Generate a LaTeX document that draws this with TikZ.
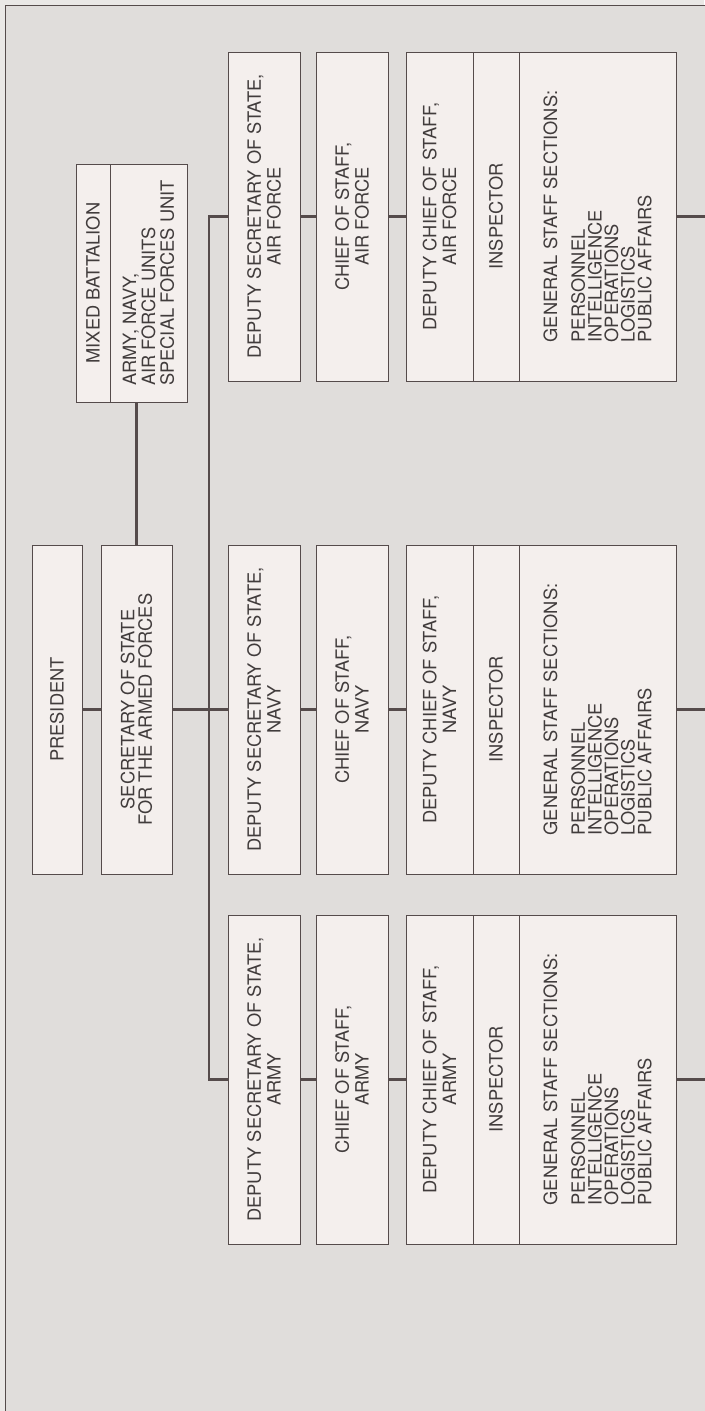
\documentclass[tikz,border=0pt]{standalone}
\usepackage{fontspec}
\setmainfont{TeX Gyre Heros}
\usetikzlibrary{positioning, calc}

\definecolor{pagegray}{RGB}{234,232,230}
\definecolor{framegray}{RGB}{224,221,219}
\definecolor{boxfill}{RGB}{244,239,237}
\definecolor{linegray}{RGB}{85,75,75}
\definecolor{inkgray}{RGB}{65,60,60}

\tikzset{
  orgbox/.style={draw=linegray, line width=0.6pt, fill=boxfill, rotate=90,
    inner sep=0pt, outer sep=0pt, align=center, minimum width=8.225cm,
    text=inkgray, font=\fontsize{13}{14}\selectfont},
  listbox/.style={orgbox, align=left, font=\fontsize{13}{11.8}\selectfont},
  conn/.style={draw=linegray, line width=1.8pt},
}

\begin{document}
\begin{tikzpicture}[x=0.025cm, y=-0.025cm]
    % Page and frame
    \useasboundingbox (0,0) rectangle (704,1411);
    \fill[pagegray] (0,0) rectangle (704,1411);
    \filldraw[fill=framegray, draw=linegray, line width=0.5pt] (5,5) rectangle (730,1440);

    % Top of the chart
    \node[orgbox, minimum height=1.25cm] (pres) at (57,709.5) {PRESIDENT};
    \node[orgbox, minimum height=1.775cm, font=\fontsize{13}{12.5}\selectfont] (sec) at (136.5,709.5) {SECRETARY OF STATE\\FOR THE ARMED FORCES};
    \node[orgbox, minimum width=5.95cm, minimum height=0.85cm] (mbhead) at (93,283) {MIXED BATTALION};
    \node[listbox, minimum width=5.95cm, minimum height=1.925cm, font=\fontsize{13}{13.5}\selectfont] (mbunits) at (148.5,283) {ARMY, NAVY,\\AIR FORCE UNITS\\SPECIAL FORCES UNIT};

    % One column per service
    \foreach \y/\arm/\n in {216.5/AIR FORCE/af, 709.5/NAVY/navy, 1079.5/ARMY/army} {
        \node[orgbox, minimum height=1.8cm] (dss\n) at (264,\y) {DEPUTY SECRETARY OF STATE,\\\arm};
        \node[orgbox, minimum height=1.8cm] (cos\n) at (352,\y) {CHIEF OF STAFF,\\\arm};
        \node[orgbox, minimum height=1.675cm] (dcs\n) at (439.5,\y) {DEPUTY CHIEF OF STAFF,\\\arm};
        \node[orgbox, minimum height=1.15cm] (insp\n) at (496,\y) {INSPECTOR};
        \node[listbox, minimum height=3.925cm] (gss\n) at (597.5,\y)
            {GENERAL STAFF SECTIONS:\\[8pt]PERSONNEL\\INTELLIGENCE\\OPERATIONS\\LOGISTICS\\PUBLIC AFFAIRS};
        \draw[conn] (dss\n) -- (cos\n);
        \draw[conn] (cos\n) -- (dcs\n);
        \draw[conn] (gss\n.south) -- ++(40,0);
    }

    % Lines of command
    \draw[conn] (pres) -- (sec);
    \draw[conn] (sec) -- (dssnavy);
    \draw[conn] (sec.east) -- (sec.east |- mbunits.west);
    \draw[conn] (dssaf.north) -- ++(-19,0) |- (dssarmy.north);
\end{tikzpicture}
\end{document}
